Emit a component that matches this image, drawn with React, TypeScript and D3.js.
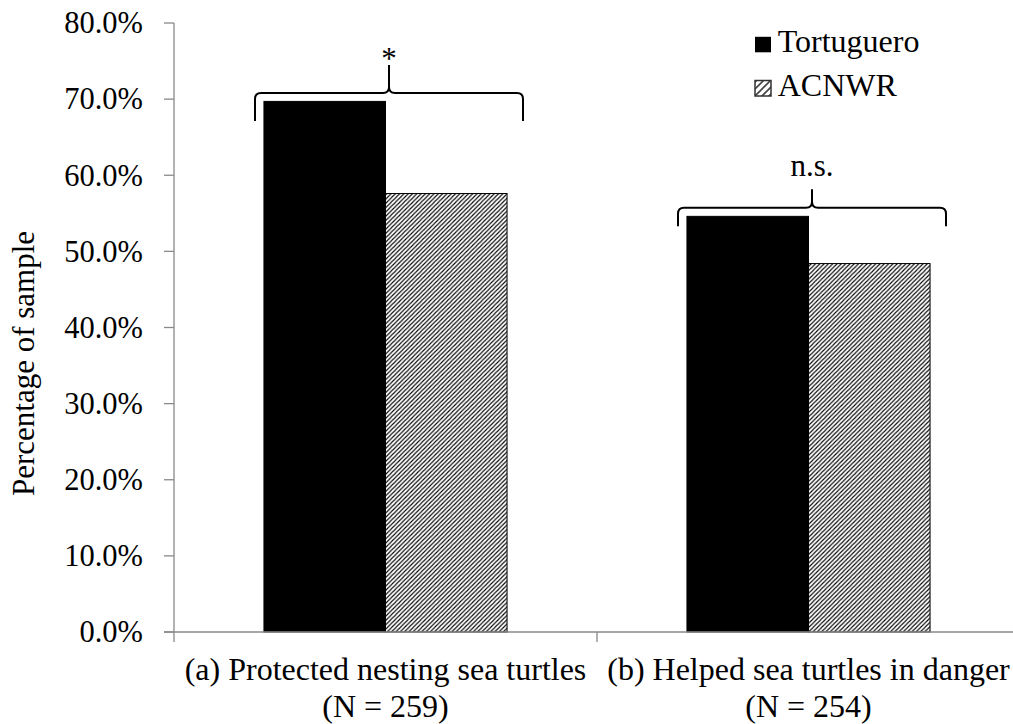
import React from "react";
import * as d3 from "d3";

const categories = ["(a) Protected nesting sea turtles", "(b) Helped sea turtles in danger"];
const sampleSizes = ["(N = 259)", "(N = 254)"];
const seriesNames = ["Tortuguero", "ACNWR"];
const tortugueroValues = [0.697, 0.546];
const acnwrValues = [0.576, 0.484];
const yTickValues = [0, 0.1, 0.2, 0.3, 0.4, 0.5, 0.6, 0.7, 0.8];
const significanceLabels = ["*", "n.s."];

const W = 1013;
const H = 724;
const AXIS_GRAY = "#898989";
const txt = { fontFamily: "Liberation Serif" };

// bracket geometry per annotation (vertical reach, label offset)
const bracketHeights = [28, 18.5];
const labelOffsets = [4, -13];

const App = () => {
  // Define scales
  const x = d3.scaleBand().domain(categories).range([174, 1020]).paddingInner(0).paddingOuter(0);
  const xInner = d3.scaleBand().domain(seriesNames).range([0, x.bandwidth()]).paddingInner(0).paddingOuter(0.74);
  const y = d3.scaleLinear().domain([0, 0.8]).range([632, 23]);

  const series = [tortugueroValues, acnwrValues];
  const fills = ["#000", "url(#hatch)"];
  const fmt = d3.format(".1%");

  const groupCenter = (c: string) => (x(c) ?? 0) + x.bandwidth() / 2 + 3.5;

  const bracePath = (cx: number, yb: number, half: number, h: number) => {
    const r = 6;
    const x0 = cx - half;
    const x1 = cx + half;
    return [
      `M${x0},${yb + h} L${x0},${yb + r} Q${x0},${yb} ${x0 + r},${yb}`,
      `L${cx - r},${yb} Q${cx},${yb} ${cx},${yb - r} L${cx},${yb - h}`,
      `M${cx},${yb - r} Q${cx},${yb} ${cx + r},${yb}`,
      `L${x1 - r},${yb} Q${x1},${yb} ${x1},${yb + r} L${x1},${yb + h}`,
    ].join(" ");
  };

  return (
    <svg width={W} height={H} style={{ position: "absolute", left: 0, top: 0, background: "#fff" }}>
      <defs>
        <pattern id="hatch" patternUnits="userSpaceOnUse" width="4.3" height="4.3">
          <rect width="4.3" height="4.3" fill="#fff" />
          <path d="M-1,1 L1,-1 M0,4.3 L4.3,0 M3.3,5.3 L5.3,3.3" stroke="#000" strokeWidth="1.1" />
        </pattern>
        <pattern id="hatchLegend" patternUnits="userSpaceOnUse" width="7" height="7">
          <rect width="7" height="7" fill="#fff" />
          <path d="M-1,1 L1,-1 M0,7 L7,0 M6,8 L8,6" stroke="#444" strokeWidth="1.6" />
        </pattern>
      </defs>

      {/* y axis */}
      <line x1={174} x2={174} y1={y(0.8)} y2={y(0)} stroke={AXIS_GRAY} strokeWidth={1.3} />
      {yTickValues.map((t) => (
        <g key={t}>
          <line x1={164} x2={174} y1={y(t)} y2={y(t)} stroke={AXIS_GRAY} strokeWidth={1.3} />
          <text x={143} y={y(t)} dy="0.34em" textAnchor="end" fontSize={30.5} fill="#000" style={txt}>
            {fmt(t)}
          </text>
        </g>
      ))}
      <text
        transform={`translate(33.5, 363.5) rotate(-90)`}
        textAnchor="middle"
        fontSize={31}
        fill="#000"
        style={txt}
      >
        Percentage of sample
      </text>

      {/* bars */}
      {series.map((vals, si) =>
        categories.map((c, ci) => (
          <rect
            key={`${si}-${ci}`}
            x={(x(c) ?? 0) + (xInner(seriesNames[si]) ?? 0)}
            y={y(vals[ci])}
            width={xInner.bandwidth()}
            height={y(0) - y(vals[ci])}
            fill={fills[si]}
            stroke="#000"
            strokeWidth={1}
          />
        ))
      )}

      {/* x axis */}
      <line x1={164} x2={1020} y1={y(0)} y2={y(0)} stroke={AXIS_GRAY} strokeWidth={1.3} />
      {[...categories.map((c) => x(c) ?? 0), 1020].map((tx, i) => (
        <line key={i} x1={tx} x2={tx} y1={y(0)} y2={y(0) + 10} stroke={AXIS_GRAY} strokeWidth={1.3} />
      ))}
      {categories.map((c, i) => (
        <text key={c} textAnchor="middle" fontSize={32} fill="#000" style={txt}>
          <tspan x={(x(c) ?? 0) + x.bandwidth() / 2} y={680}>
            {c}
          </tspan>
          <tspan x={(x(c) ?? 0) + x.bandwidth() / 2} y={717}>
            {sampleSizes[i]}
          </tspan>
        </text>
      ))}

      {/* significance brackets */}
      {categories.map((c, i) => {
        const cx = groupCenter(c);
        const top = y(Math.max(tortugueroValues[i], acnwrValues[i])) - 8.5;
        const h = bracketHeights[i];
        return (
          <g key={`br-${i}`}>
            <path d={bracePath(cx, top, 134, h)} fill="none" stroke="#000" strokeWidth={2} />
            <text x={cx} y={top - h + labelOffsets[i]} textAnchor="middle" fontSize={31} fill="#000" style={txt}>
              {significanceLabels[i]}
            </text>
          </g>
        );
      })}

      {/* legend */}
      {seriesNames.map((s, i) => (
        <g key={s} transform={`translate(755, ${52.3 + i * 43.7})`}>
          <rect
            x={0}
            y={-15.5}
            width={16}
            height={15.5}
            fill={i === 0 ? "#000" : "url(#hatchLegend)"}
            stroke={i === 0 ? "none" : "#333"}
            strokeWidth={1.5}
          />
          <text x={22.7} y={0} fontSize={32} fill="#000" style={txt}>
            {s}
          </text>
        </g>
      ))}
    </svg>
  );
};

export default App;
